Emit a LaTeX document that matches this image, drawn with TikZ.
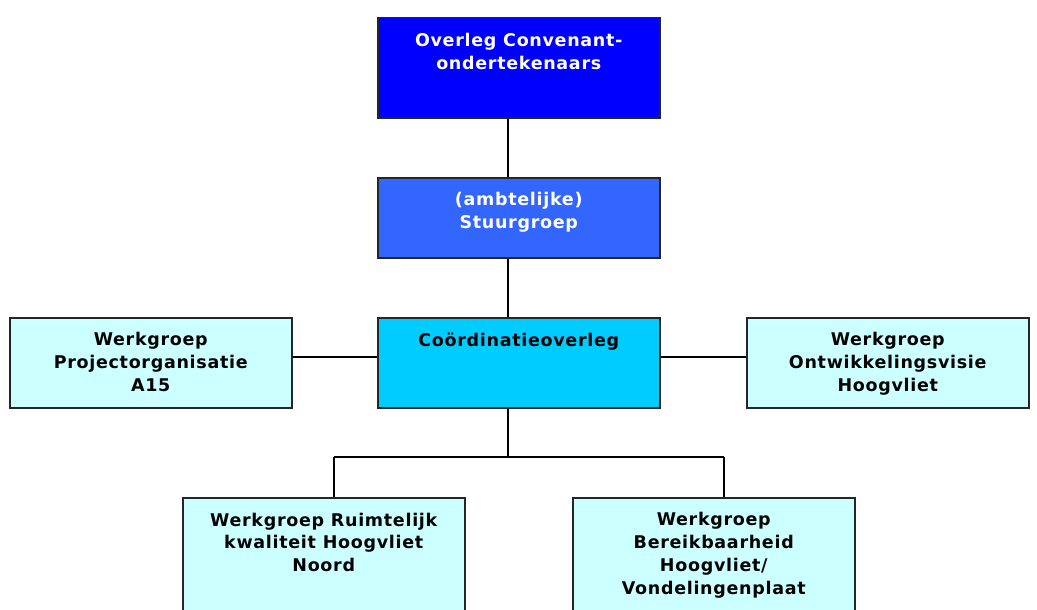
\documentclass[tikz,border=0pt]{standalone}
\usepackage{fontspec}
\setmainfont{DejaVu Sans}[LetterSpace=4]
\begin{document}
\begin{tikzpicture}[x=1pt,y=-1pt,
  box/.style={draw=black!85,line width=1.5pt,anchor=north west,minimum width=282pt,inner sep=0pt},
  lbl/.style={anchor=north,align=center,font=\fontsize{17.5}{22.7}\selectfont\bfseries,inner sep=0pt},
  conn/.style={draw=black,line width=1.3pt}]
\useasboundingbox (0,0) rectangle (1037,610);
\clip (0,0) rectangle (1037,610);
\definecolor{cTop}{HTML}{0000FF}
\definecolor{cStuur}{HTML}{3366FF}
\definecolor{cCoord}{HTML}{00CCFF}
\definecolor{cWerk}{HTML}{CCFFFF}
% boxes
\node[box,fill=cTop,minimum height=100pt] (top) at (377,17) {};
\node[box,fill=cStuur,minimum height=80pt] (stuur) at (377,177) {};
\node[box,fill=cCoord,minimum height=90pt] (coord) at (377,317) {};
\node[box,fill=cWerk,minimum height=90pt] (left) at (9,317) {};
\node[box,fill=cWerk,minimum height=90pt] (right) at (746,317) {};
\node[box,fill=cWerk,minimum height=130pt] (bl) at (182,497) {};
\node[box,fill=cWerk,minimum height=130pt] (br) at (572,497) {};
% labels
\node[lbl,text=white] (ttop) at ([yshift=-16.5pt]top.north) {Overleg Convenant-\\ondertekenaars};
\node[lbl,text=white] (tstuur) at ([yshift=-15.5pt]stuur.north) {(ambtelijke)\\Stuurgroep};
\node[lbl] (tcoord) at ([yshift=-15.5pt]coord.north) {Coördinatieoverleg};
\node[lbl] (tleft) at ([yshift=-15.5pt]left.north) {Werkgroep\\Projectorganisatie\\A15};
\node[lbl] (tright) at ([yshift=-15.5pt]right.north) {Werkgroep\\Ontwikkelingsvisie\\Hoogvliet};
\node[lbl] (tbl) at ([yshift=-15.5pt]bl.north) {Werkgroep Ruimtelijk\\kwaliteit Hoogvliet\\Noord};
\node[lbl] (tbr) at ([yshift=-15.5pt]br.north) {Werkgroep\\Bereikbaarheid\\Hoogvliet/\\Vondelingenplaat};
% connectors
\coordinate (cx) at (508,0);
\coordinate (hy) at (0,357);
\coordinate (j) at (508,457);
\coordinate (jl) at (334,457);
\coordinate (jr) at (724,457);
\draw[conn] (cx |- top.south) -- (cx |- stuur.north);
\draw[conn] (cx |- stuur.south) -- (cx |- coord.north);
\draw[conn] (left.east |- hy) -- (coord.west |- hy);
\draw[conn] (coord.east |- hy) -- (right.west |- hy);
\draw[conn] (cx |- coord.south) -- (j);
\draw[conn] (jl) -- (jr);
\draw[conn] (jl) -- (jl |- bl.north);
\draw[conn] (jr) -- (jr |- br.north);
\end{tikzpicture}
\end{document}
